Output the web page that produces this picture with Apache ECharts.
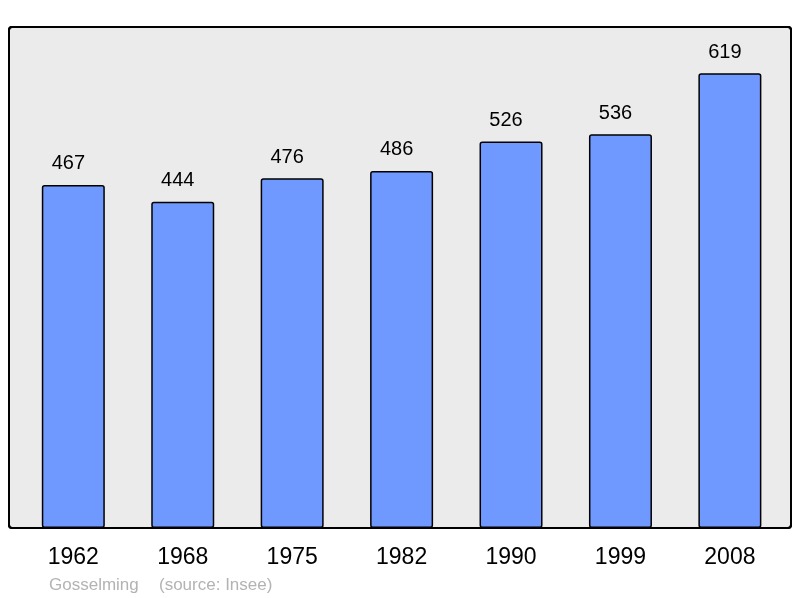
<!DOCTYPE html>
<html>
<head>
<meta charset="utf-8">
<script src="https://cdn.jsdelivr.net/npm/echarts@6/dist/echarts.min.js"></script>
<style>html,body{margin:0;padding:0;background:#fff}#c{width:800px;height:598px}</style>
</head>
<body>
<div id="c"></div>
<script>
var years = ['1962', '1968', '1975', '1982', '1990', '1999', '2008'];
var population = [467, 444, 476, 486, 526, 536, 619];
var footerName = 'Gosselming';
var footerSource = '(source: Insee)';

var chart = echarts.init(document.getElementById('c'), null, {renderer: 'canvas'});
chart.setOption({
  animation: false,
  backgroundColor: '#ffffff',
  textStyle: {fontFamily: 'Liberation Sans, Arial, sans-serif'},
  graphic: [
    {type: 'rect', z: -10, shape: {x: 9, y: 27, width: 782, height: 501, r: 3},
     style: {fill: '#ebebeb', stroke: '#000', lineWidth: 2}},
    {type: 'rect', z: 100, silent: true, shape: {x: 9, y: 27, width: 782, height: 501, r: 3},
     style: {fill: 'none', stroke: '#000', lineWidth: 2}},
    {type: 'text', left: 49, top: 577, style: {text: footerName, fill: '#b3b3b3', font: '17px "Liberation Sans", Arial, sans-serif'}},
    {type: 'text', left: 159, top: 577, style: {text: footerSource, fill: '#b3b3b3', font: '17px "Liberation Sans", Arial, sans-serif'}}
  ],
  grid: {left: 18.6, right: 15.4, top: 27, bottom: 70, containLabel: false},
  xAxis: {
    type: 'category', data: years,
    axisLine: {show: false}, axisTick: {show: false},
    axisLabel: {fontSize: 23, color: '#000', margin: 18, fontFamily: 'Liberation Sans'}
  },
  yAxis: {type: 'value', min: 0, max: 682, show: false, splitLine: {show: false}},
  series: [{
    type: 'bar', data: population, barWidth: 63,
    itemStyle: {color: '#7099ff', borderColor: '#000', borderWidth: 1.5, borderRadius: 2},
    label: {show: true, position: 'top', distance: 11, offset: [-5, 0], fontSize: 20, color: '#000', fontFamily: 'Liberation Sans'}
  }]
});
</script>
</body>
</html>
